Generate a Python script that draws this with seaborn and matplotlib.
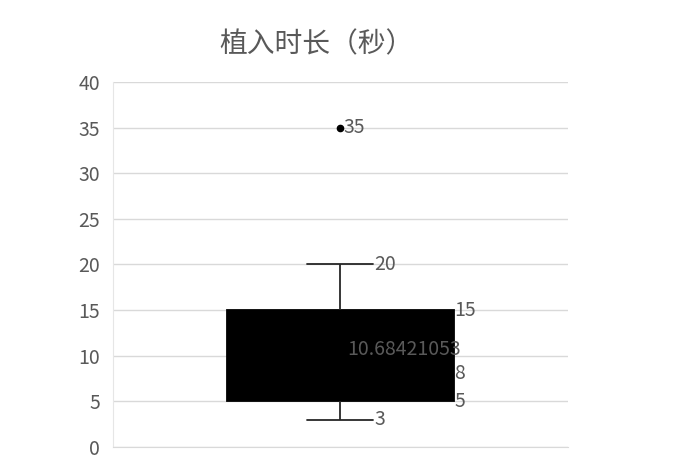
import numpy as np
import pandas as pd
import matplotlib
matplotlib.use("Agg")
import matplotlib.pyplot as plt
import seaborn as sns

# data ------------------------------------------------
# 19 observations consistent with the shown summary (Q1=5, median=8, Q3=15,
# whiskers 3..20, outlier 35, mean 10.68421053)
durations = [3, 4, 4, 5, 5, 5, 6, 7, 8, 8, 9, 10, 12, 15, 15, 15, 17, 20, 35]
title = "植入时长（秒）"
yticks = [0, 5, 10, 15, 20, 25, 30, 35, 40]

df = pd.DataFrame({"group": ["植入时长"] * len(durations), "value": durations})

sns.set_style("white")
plt.rcParams['font.family'] = ['Noto Sans CJK SC', 'DejaVu Sans']

grey = "#595959"
fig = plt.figure(figsize=(6.92, 4.66), dpi=100)
ax = fig.add_axes([0.163, 0.041, 0.658, 0.783])

ax.yaxis.grid(True, color="#d9d9d9", linewidth=1)
ax.set_axisbelow(True)

sns.boxplot(data=df, x="group", y="value", ax=ax, width=1.0, whis=1.5,
            color="black", linecolor="black", linewidth=1.3,
            boxprops=dict(facecolor="black", edgecolor="black"),
            whiskerprops=dict(color="#262626", linewidth=1.3),
            capprops=dict(color="#262626", linewidth=1.3),
            flierprops=dict(marker="o", markersize=4.5, markerfacecolor="black",
                            markeredgecolor="black"))

# narrow the whisker caps
vals = np.array(durations)
q1, med, q3 = np.percentile(vals, [25, 50, 75])
iqr = q3 - q1
lo = vals[vals >= q1 - 1.5 * iqr].min()
hi = vals[vals <= q3 + 1.5 * iqr].max()
for ln in ax.lines:
    y = np.asarray(ln.get_ydata(), dtype=float)
    if len(y) == 2 and y[0] == y[1] and y[0] in (lo, hi):
        ln.set_xdata([-0.145, 0.145])

ax.set_xlim(-1, 1)
ax.set_ylim(0, 40)
ax.set_yticks(yticks)
ax.set_xticks([])
ax.set_xlabel("")
ax.set_ylabel("")
ax.tick_params(axis="y", length=0, labelsize=14, labelcolor=grey, pad=9)
for s in ["top", "right"]:
    ax.spines[s].set_visible(False)
ax.spines["left"].set_color("#e6e6e6")
ax.spines["bottom"].set_color("#d9d9d9")

# data labels
fs = 14
mean = vals.mean()
outliers = vals[(vals < lo) | (vals > hi)]
ax.text(0.5, q3, f"{q3:g}", ha="left", va="center", fontsize=fs, color=grey)
ax.text(0.5, med, f"{med:g}", ha="left", va="center", fontsize=fs, color=grey)
ax.text(0.5, q1, f"{q1:g}", ha="left", va="center", fontsize=fs, color=grey)
ax.text(0.53, mean, f"{mean:.8f}", ha="right", va="center", fontsize=fs, color=grey)
ax.text(0.15, hi, f"{hi:g}", ha="left", va="center", fontsize=fs, color=grey)
ax.text(0.15, lo, f"{lo:g}", ha="left", va="center", fontsize=fs, color=grey)
for o in outliers:
    ax.text(0.015, o, f"{o:g}", ha="left", va="center", fontsize=fs, color=grey)

fig.text(0.458, 0.905, title, ha="center", va="center", fontsize=20, color=grey)

fig.savefig("out.png", dpi=100)
